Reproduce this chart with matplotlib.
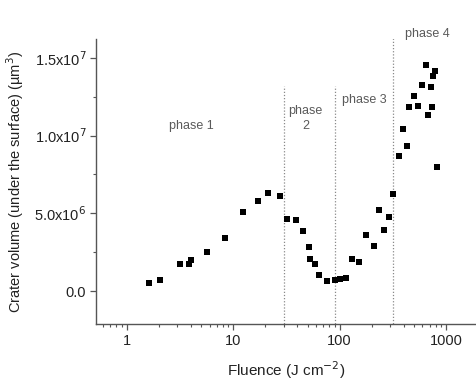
import matplotlib
matplotlib.use("Agg")
import matplotlib.pyplot as plt
from matplotlib.ticker import LogLocator, FixedLocator, NullFormatter

plt.rcParams['font.family'] = ['Liberation Sans', 'DejaVu Sans']

fluence = [1.63, 2.07, 3.15, 3.82, 4.04, 5.71, 8.37, 12.4, 17.0, 21.1, 27.5, 32.2,
           39.1, 45.2, 51.2, 53.0, 59.0, 64.4, 76.5, 89.8, 100.7, 113.8, 130.4, 152.8,
           176.6, 211.2, 235.5, 260.6, 292.2, 318.8, 363.0, 395.7, 428.6, 450.9, 501.6,
           543.3, 596.6, 642.0, 679.4, 715.9, 741.4, 757.5, 785.8, 815.2]
volume = [0.51e6, 0.70e6, 1.74e6, 1.74e6, 2.04e6, 2.53e6, 3.42e6, 5.10e6, 5.80e6, 6.29e6, 6.12e6, 4.64e6,
          4.61e6, 3.87e6, 2.87e6, 2.08e6, 1.74e6, 1.02e6, 0.66e6, 0.70e6, 0.79e6, 0.87e6, 2.06e6, 1.85e6,
          3.61e6, 2.89e6, 5.25e6, 3.93e6, 4.80e6, 6.25e6, 8.69e6, 10.40e6, 9.33e6, 11.86e6, 12.52e6,
          11.93e6, 13.27e6, 14.56e6, 11.33e6, 13.09e6, 11.84e6, 13.82e6, 14.16e6, 7.95e6]

phase_bounds = [30, 90, 320]
phase_tops = [1.32e7, 1.32e7, 1.77e7]
phase_labels = ["phase 1", "phase\n2", "phase 3", "phase 4"]
phase_label_x = [4.05, 48, 170, 670]
phase_label_y = [1.06e7, 1.11e7, 1.23e7, 1.65e7]

ytick_vals = [0.0, 5.0e6, 1.0e7, 1.5e7]
ytick_labels = ["0.0", r"5.0x10$^6$", r"1.0x10$^7$", r"1.5x10$^7$"]

fig = plt.figure(figsize=(4.77, 3.80), dpi=100)
ax = fig.add_axes([96/477, 56/380, (477-96)/477, (324-39)/380])

ax.scatter(fluence, volume, marker='s', s=25, color='black', zorder=3, linewidths=0)

for b, t in zip(phase_bounds, phase_tops):
    ax.plot([b, b], [-2.5e6, t], linestyle=(0, (1, 1.5)), color='#8a8a8a', linewidth=0.9, zorder=1)

for lab, lx, ly in zip(phase_labels, phase_label_x, phase_label_y):
    ax.text(lx, ly, lab, ha='center', va='center', fontsize=9, color='#5a5a5a', linespacing=1.3)

ax.set_xscale('log')
ax.set_xlim(0.515, 1950)
ax.set_ylim(-2.1e6, 1.62e7)

ax.xaxis.set_major_locator(FixedLocator([1, 10, 100, 1000]))
ax.set_xticklabels(["1", "10", "100", "1000"])
ax.xaxis.set_minor_locator(LogLocator(base=10, subs=range(2, 10), numticks=20))
ax.xaxis.set_minor_formatter(NullFormatter())

ax.yaxis.set_major_locator(FixedLocator(ytick_vals))
ax.set_yticklabels(ytick_labels)
ax.yaxis.set_minor_locator(FixedLocator([2.5e6, 7.5e6, 1.25e7]))

for s in ['top', 'right']:
    ax.spines[s].set_visible(False)
for s in ['left', 'bottom']:
    ax.spines[s].set_color('#555555')
    ax.spines[s].set_linewidth(1.0)

ax.tick_params(axis='both', which='major', direction='out', length=4, width=0.9,
               color='#555555', labelsize=10.5, labelcolor='#222222', pad=3)
ax.tick_params(axis='both', which='minor', direction='out', length=2.5, width=0.8, color='#555555')

ax.set_xlabel(r"Fluence (J cm$^{-2}$)", fontsize=11, color='#222222', labelpad=8)
ax.set_ylabel("Crater volume (under the surface) (µm$^3$)", fontsize=10.5, color='#222222', labelpad=6)

fig.savefig("out.png", dpi=100, facecolor='white')
